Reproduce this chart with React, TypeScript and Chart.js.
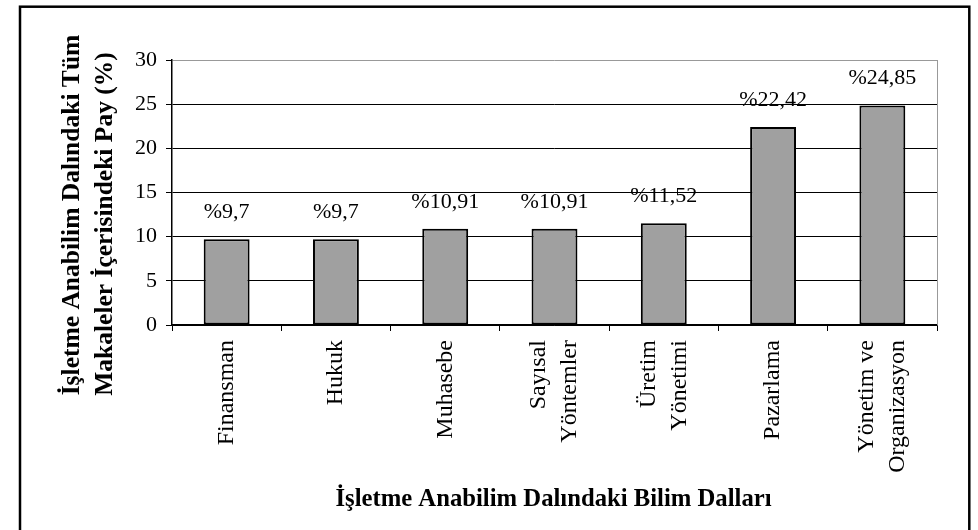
import React, { useEffect, useRef } from "react";
import { Chart, registerables } from "chart.js";

Chart.register(...registerables);

const categories: string[][] = [
  ["Finansman"],
  ["Hukuk"],
  ["Muhasebe"],
  ["Sayısal", "Yöntemler"],
  ["Üretim", "Yönetimi"],
  ["Pazarlama"],
  ["Yönetim ve", "Organizasyon"],
];
const shares: number[] = [9.7, 9.7, 10.91, 10.91, 11.52, 22.42, 24.85];
const valueLabels: string[] = ["%9,7", "%9,7", "%10,91", "%10,91", "%11,52", "%22,42", "%24,85"];
const yMin = 0;
const yMax = 30;
const yStep = 5;
const yTitleLines: string[] = ["İşletme Anabilim Dalındaki Tüm", "Makaleler İçerisindeki Pay (%)"];
const xTitle = "İşletme Anabilim Dalındaki Bilim Dalları";

const FONT = '"Liberation Serif", "Times New Roman", serif';

const decor = {
  id: "decor",
  afterDatasetsDraw(chart: any) {
    const ctx = chart.ctx as CanvasRenderingContext2D;
    const area = chart.chartArea;
    const xScale = chart.scales.x;
    ctx.save();
    // gray right frame of plot area
    ctx.strokeStyle = "#999999";
    ctx.lineWidth = 1;
    ctx.beginPath();
    ctx.moveTo(Math.round(area.right) + 0.5, area.top);
    ctx.lineTo(Math.round(area.right) + 0.5, area.bottom);
    ctx.stroke();

    ctx.fillStyle = "#000";

    // category labels (rotated, multi-line centred on the category)
    ctx.font = `24px ${FONT}`;
    ctx.textAlign = "right";
    ctx.textBaseline = "middle";
    const lineGap = 31;
    categories.forEach((lines, i) => {
      const cx = xScale.getPixelForTick(i);
      lines.forEach((line, j) => {
        const off = (j - (lines.length - 1) / 2) * lineGap;
        ctx.save();
        ctx.translate(cx + off, area.bottom + 15);
        ctx.rotate(-Math.PI / 2);
        ctx.fillText(line, 0, 0);
        ctx.restore();
      });
    });

    // value labels
    const meta = chart.getDatasetMeta(0);
    ctx.font = `22px ${FONT}`;
    ctx.textAlign = "center";
    ctx.textBaseline = "alphabetic";
    meta.data.forEach((bar: any, i: number) => {
      ctx.fillText(valueLabels[i], bar.x, bar.y - 21);
    });

    // y title (two lines, rotated)
    ctx.font = `bold 25.5px ${FONT}`;
    ctx.textBaseline = "middle";
    const yCenters = [215, 224];
    const xCenters = [72, 105];
    yTitleLines.forEach((line, i) => {
      ctx.save();
      ctx.translate(xCenters[i], yCenters[i]);
      ctx.rotate(-Math.PI / 2);
      ctx.fillText(line, 0, 0);
      ctx.restore();
    });

    // x title
    ctx.font = `bold 24.7px ${FONT}`;
    ctx.textBaseline = "alphabetic";
    ctx.fillText(xTitle, (area.left + area.right) / 2 - 1, 506);

    // outer frame
    ctx.strokeStyle = "#000";
    ctx.lineWidth = 2.5;
    ctx.strokeRect(20, 6.7, 949.3, 600);
    ctx.restore();
  },
};

export default function App() {
  const ref = useRef<HTMLCanvasElement | null>(null);
  useEffect(() => {
    if (!ref.current) return;
    const chart = new Chart(ref.current, {
      type: "bar",
      data: {
        labels: categories.map((l) => l.join(" ")),
        datasets: [
          {
            data: shares,
            backgroundColor: "#a0a0a0",
            borderColor: "#000",
            borderWidth: 2,
            borderSkipped: false,
            categoryPercentage: 1,
            barPercentage: 0.42,
          },
        ],
      },
      options: {
        responsive: false,
        animation: false,
        devicePixelRatio: 1,
        layout: { padding: { left: 120, right: 41, top: 60, bottom: 0 } },
        plugins: { legend: { display: false }, tooltip: { enabled: false } },
        scales: {
          x: {
            afterFit: (s: any) => {
              s.height = 205;
            },
            grid: { drawOnChartArea: false, tickLength: 6, color: "#000", offset: true },
            border: { color: "#000", width: 1.5 },
            ticks: { display: false },
          },
          y: {
            min: yMin,
            max: yMax,
            afterFit: (s: any) => {
              s.width = 52;
            },
            grid: {
              color: (c: any) => (c.tick && c.tick.value === yMax ? "#999999" : "#000"),
              tickColor: "#000",
              tickLength: 6,
              lineWidth: 1,
            },
            border: { color: "#000", width: 1.5 },
            ticks: {
              stepSize: yStep,
              padding: 9,
              color: "#000",
              font: { family: FONT, size: 22 },
            },
          },
        },
      },
      plugins: [decor],
    });
    return () => chart.destroy();
  }, []);
  return (
    <div style={{ position: "fixed", left: 0, top: 0, width: 978, height: 530, background: "#fff" }}>
      <canvas ref={ref} width={978} height={530} style={{ display: "block" }} />
    </div>
  );
}
